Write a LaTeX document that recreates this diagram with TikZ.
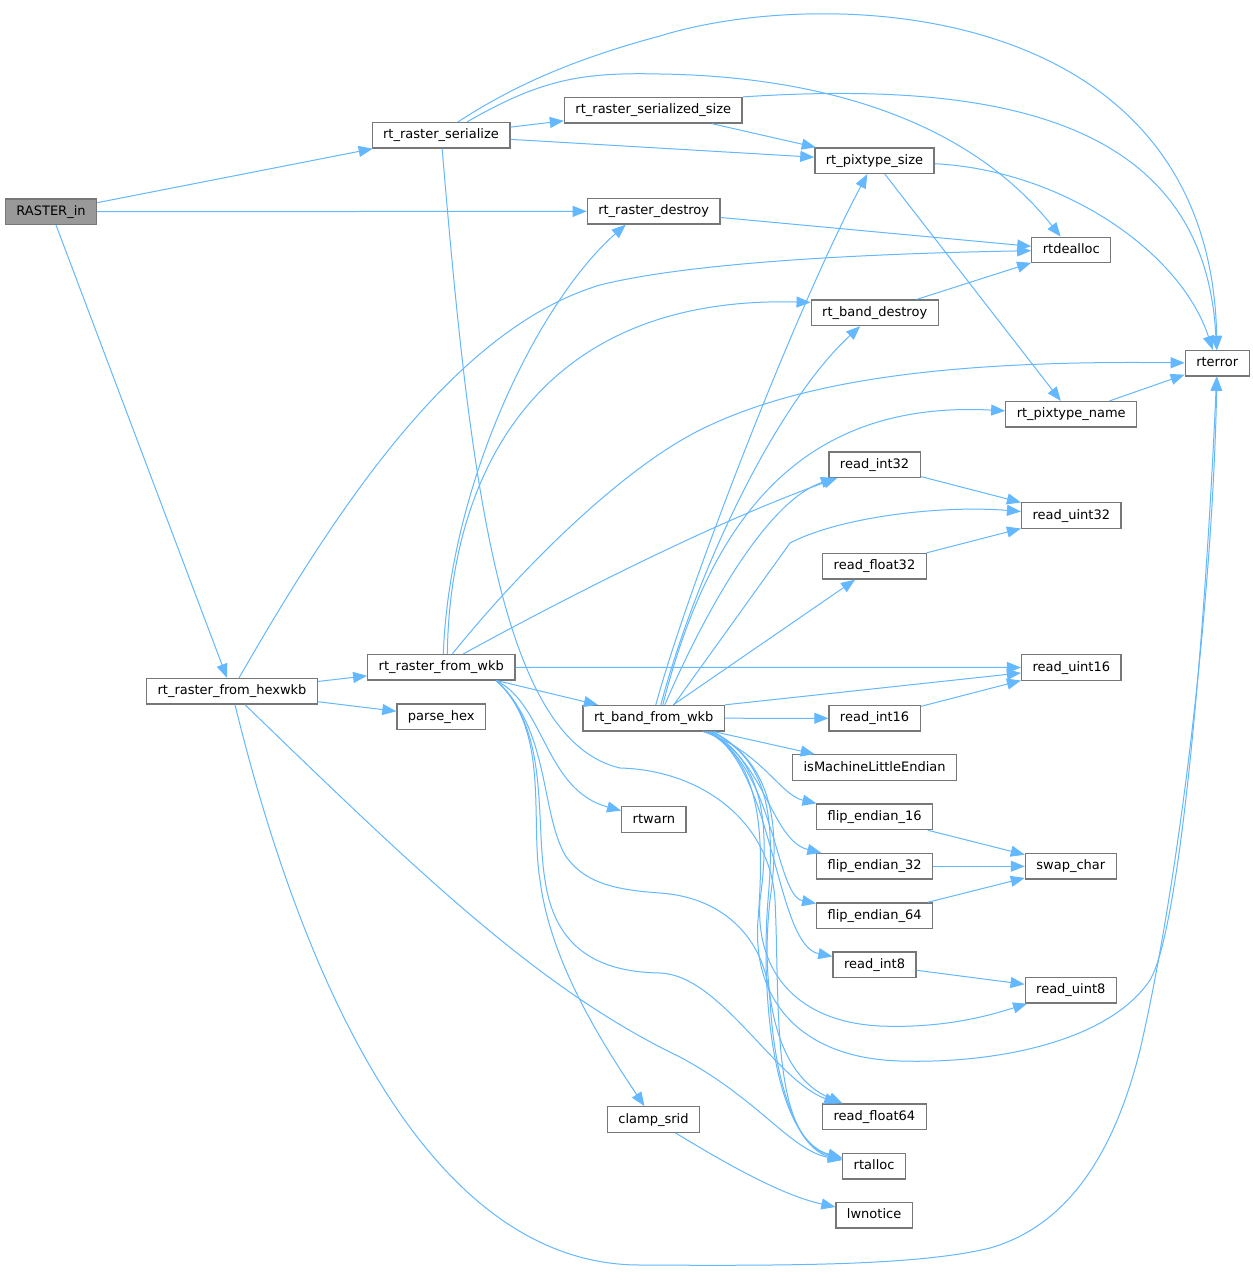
\documentclass[tikz,border=0pt]{standalone}
\usepackage{fontspec}
\setmainfont{DejaVu Sans}
\usetikzlibrary{arrows.meta}

\definecolor{callblue}{HTML}{63B8FF}
\definecolor{boxgray}{HTML}{777777}
\definecolor{rootgray}{HTML}{999999}

\begin{document}
\begin{tikzpicture}[
  x=1pt, y=-1pt,
  >={Triangle[length=14pt,width=11pt]},
  fn/.style={draw=boxgray, line width=1.3pt, fill=white, inner xsep=11pt, inner ysep=0pt,
    minimum height=25.5pt, text height=9.6pt, text depth=2.6pt, font=\fontsize{13}{15}\selectfont},
  root/.style={fn, fill=rootgray},
  call/.style={->, callblue, line width=1pt}
]
  \path[use as bounding box, fill=white] (0,0) rectangle (1253,1272);

  \node[root] (rasterin) at (51,211.7) {RASTER\_in};
  \node[fn] (serialize) at (441,135.3) {rt\_raster\_serialize};
  \node[fn] (serializedsize) at (653.3,110.3) {rt\_raster\_serialized\_size};
  \node[fn] (pixtypesize) at (874.5,160.7) {rt\_pixtype\_size};
  \node[fn] (rasterdestroy) at (653.7,211.3) {rt\_raster\_destroy};
  \node[fn] (rtdealloc) at (1071.3,250) {rtdealloc};
  \node[fn] (banddestroy) at (874.7,312.8) {rt\_band\_destroy};
  \node[fn] (rterror) at (1217.2,363.3) {rterror};
  \node[fn] (pixtypename) at (1071.2,414.3) {rt\_pixtype\_name};
  \node[fn] (readint32) at (874.6,464.6) {read\_int32};
  \node[fn] (readuint32) at (1071.3,515.5) {read\_uint32};
  \node[fn] (readfloat32) at (874.5,566.3) {read\_float32};
  \node[fn] (fromhexwkb) at (232,691.3) {rt\_raster\_from\_hexwkb};
  \node[fn] (fromwkb) at (441.3,667.3) {rt\_raster\_from\_wkb};
  \node[fn] (readuint16) at (1071.3,667.5) {read\_uint16};
  \node[fn] (parsehex) at (441.2,716.7) {parse\_hex};
  \node[fn] (bandfromwkb) at (653.8,718.2) {rt\_band\_from\_wkb};
  \node[fn] (readint16) at (874.6,718.3) {read\_int16};
  \node[fn] (ismachine) at (874.6,767.5) {isMachineLittleEndian};
  \node[fn] (rtwarn) at (653.9,819.5) {rtwarn};
  \node[fn] (flip16) at (874.6,816.8) {flip\_endian\_16};
  \node[fn] (swapchar) at (1070.8,866.3) {swap\_char};
  \node[fn] (flip32) at (874.6,866.3) {flip\_endian\_32};
  \node[fn] (flip64) at (874.6,915.7) {flip\_endian\_64};
  \node[fn] (readint8) at (874.5,964.8) {read\_int8};
  \node[fn] (readuint8) at (1070.8,990.3) {read\_uint8};
  \node[fn] (readfloat64) at (874.4,1116.8) {read\_float64};
  \node[fn] (clampsrid) at (653.5,1119.5) {clamp\_srid};
  \node[fn] (rtalloc) at (874.1,1166.3) {rtalloc};
  \node[fn] (lwnotice) at (874.1,1215.3) {lwnotice};

  % RASTER_in
  \draw[call] (rasterin) -- (serialize);
  \draw[call] (rasterin) -- (rasterdestroy);
  \draw[call] (rasterin) -- (fromhexwkb);

  % rt_raster_serialize
  \draw[call] (serialize) -- (serializedsize);
  \draw[call] (serialize) -- (pixtypesize);
  \draw[call] ([xshift=17pt]serialize.north) .. controls (510,88) and (570,60) .. (660,36)
    .. controls (820,-14) and (1210,-5) .. (rterror);
  \draw[call] ([xshift=26pt]serialize.north) .. controls (540,80) and (580,72) .. (660,74)
    .. controls (800,76) and (960,110) .. (rtdealloc);
  \draw[call] (serialize) .. controls (470,480) and (500,740) .. (620,768)
    .. controls (700,770) and (770,820) .. (775,900) .. controls (780,1000) and (770,1140) .. (rtalloc);

  \draw[call] (serializedsize) -- (pixtypesize);
  \draw[call] (serializedsize.north east) .. controls (1000,80) and (1205,120) .. (rterror);
  \draw[call] (pixtypesize) .. controls (1060,170) and (1180,250) .. (rterror);
  \draw[call] (pixtypesize) -- (pixtypename);
  \draw[call] (rasterdestroy) -- (rtdealloc);
  \draw[call] (banddestroy) -- (rtdealloc);
  \draw[call] (pixtypename) -- (rterror);
  \draw[call] (readint32) -- (readuint32);
  \draw[call] (readfloat32) -- (readuint32);
  \draw[call] (readint16) -- (readuint16);
  \draw[call] (flip16) -- (swapchar);
  \draw[call] (flip32) -- (swapchar);
  \draw[call] (flip64) -- (swapchar);
  \draw[call] (readint8) -- (readuint8);
  \draw[call] (clampsrid) .. controls (720,1160) and (780,1195) .. (lwnotice);

  % rt_raster_from_hexwkb
  \draw[call] ([xshift=7pt]fromhexwkb.north) .. controls (330,520) and (450,330) .. (600,285)
    .. controls (700,260) and (900,253) .. (rtdealloc);
  \draw[call] (fromhexwkb) -- (fromwkb);
  \draw[call] (fromhexwkb) -- (parsehex);
  \draw[call] ([xshift=13pt]fromhexwkb.south) .. controls (420,874) and (540,990) .. (680,1057)
    .. controls (760,1100) and (790,1150) .. (rtalloc);
  \draw[call] ([xshift=3pt]fromhexwkb.south) .. controls (290,930) and (410,1265) .. (640,1265)
    .. controls (800,1266) and (920,1265) .. (990,1248) .. controls (1070,1225) and (1115,1150) .. (1140,1050)
    .. controls (1175,900) and (1212,620) .. (rterror);

  % rt_raster_from_wkb
  \draw[call] ([xshift=2pt]fromwkb.north) .. controls (450,480) and (540,300) .. ([xshift=-28pt]rasterdestroy.south);
  \draw[call] ([xshift=6pt]fromwkb.north) .. controls (450,470) and (540,295) .. ([yshift=-3pt]banddestroy.north west);
  \draw[call] ([xshift=11pt]fromwkb.north) .. controls (520,570) and (620,470) .. (700,430)
    .. controls (800,380) and (950,360) .. (rterror);
  \draw[call] ([xshift=22pt]fromwkb.north) .. controls (580,590) and (720,520) .. (readint32);
  \draw[call] (fromwkb) -- (readuint16);
  \draw[call] (fromwkb) -- (bandfromwkb);
  \draw[call] ([xshift=-19pt]fromwkb.south east) .. controls (545,705) and (545,790) .. (rtwarn);
  \draw[call] ([xshift=-19pt]fromwkb.south east) .. controls (550,730) and (530,820) .. (540,880)
    .. controls (550,960) and (600,1040) .. (clampsrid);
  \draw[call] ([xshift=-19pt]fromwkb.south east) .. controls (550,730) and (535,820) .. (545,880)
    .. controls (555,950) and (600,972) .. (660,973) .. controls (720,975) and (775,1080) .. (readfloat64);
  \draw[call] ([xshift=-19pt]fromwkb.south east) .. controls (550,730) and (540,810) .. (565,855)
    .. controls (585,885) and (620,890) .. (660,893) .. controls (720,897) and (765,935) .. (770,1000)
    .. controls (775,1090) and (800,1150) .. (rtalloc);

  % rt_band_from_wkb
  \draw[call] ([xshift=2pt]bandfromwkb.north) .. controls (690,580) and (800,300) .. (pixtypesize);
  \draw[call] ([xshift=7pt]bandfromwkb.north) .. controls (700,560) and (780,400) .. (banddestroy);
  \draw[call] ([xshift=9pt]bandfromwkb.north) .. controls (710,520) and (800,400) .. (pixtypename);
  \draw[call] ([xshift=11pt]bandfromwkb.north) .. controls (710,600) and (770,500) .. (readint32);
  \draw[call] ([xshift=20pt]bandfromwkb.north) -- (790,543) .. controls (840,517) and (940,505) .. (readuint32);
  \draw[call] (bandfromwkb) -- (readfloat32);
  \draw[call] (bandfromwkb.north east) -- (readuint16);
  \draw[call] (bandfromwkb) -- (readint16);
  \draw[call] (bandfromwkb) -- (ismachine);
  \draw[call] ([xshift=-22pt]bandfromwkb.south east) .. controls (760,750) and (780,795) .. (flip16);
  \draw[call] ([xshift=-20pt]bandfromwkb.south east) .. controls (765,755) and (770,840) .. (flip32);
  \draw[call] ([xshift=-18pt]bandfromwkb.south east) .. controls (775,765) and (775,895) .. (flip64);
  \draw[call] ([xshift=-16pt]bandfromwkb.south east) .. controls (775,770) and (775,945) .. (readint8);
  \draw[call] ([xshift=-12pt]bandfromwkb.south east) .. controls (775,765) and (780,830) .. (770,900)
    .. controls (760,990) and (775,1075) .. (readfloat64);
  \draw[call] ([xshift=-14pt]bandfromwkb.south east) .. controls (770,760) and (775,820) .. (768,900)
    .. controls (760,1000) and (775,1140) .. (rtalloc);
  \draw[call] ([xshift=-16pt]bandfromwkb.south east) .. controls (765,760) and (770,830) .. (760,900)
    .. controls (755,975) and (800,1022) .. (880,1026) .. controls (950,1029) and (1000,1012) .. (readuint8);
  \draw[call] ([xshift=-18pt]bandfromwkb.south east) .. controls (760,760) and (765,830) .. (758,920)
    .. controls (752,1000) and (800,1058) .. (900,1061) .. controls (1000,1064) and (1110,1040) .. (1150,980)
    .. controls (1180,930) and (1205,640) .. (rterror);
\end{tikzpicture}
\end{document}
